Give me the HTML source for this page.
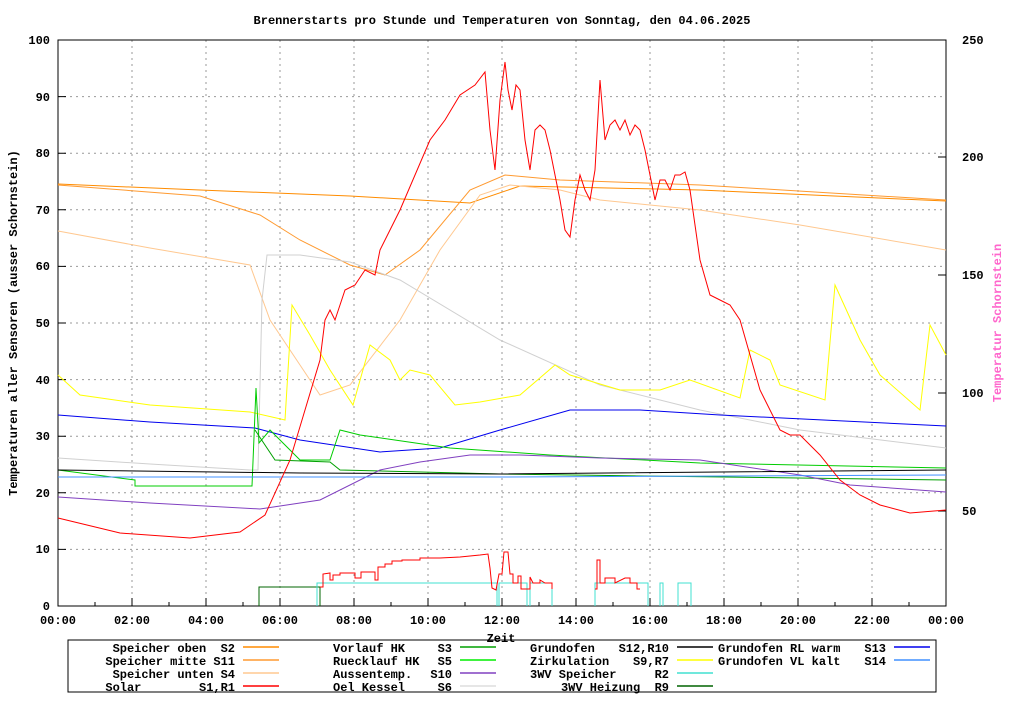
<!DOCTYPE html>
<html><head><meta charset="utf-8"><style>
body{margin:0;background:#fff}
svg text{font-family:"Liberation Mono",monospace;font-size:12px;font-weight:bold;fill:#000;white-space:pre}
</style></head><body>
<svg width="1024" height="700" viewBox="0 0 1024 700" xmlns="http://www.w3.org/2000/svg" xml:space="preserve">
<rect width="1024" height="700" fill="#fff"/>
<text x="502" y="24" text-anchor="middle">Brennerstarts pro Stunde und Temperaturen von Sonntag, den 04.06.2025</text>
<g stroke="#999" stroke-dasharray="2,4" stroke-width="1">
<line x1="58" y1="549.4" x2="946" y2="549.4"/><line x1="58" y1="492.8" x2="946" y2="492.8"/><line x1="58" y1="436.2" x2="946" y2="436.2"/><line x1="58" y1="379.6" x2="946" y2="379.6"/><line x1="58" y1="323" x2="946" y2="323"/><line x1="58" y1="266.4" x2="946" y2="266.4"/><line x1="58" y1="209.8" x2="946" y2="209.8"/><line x1="58" y1="153.2" x2="946" y2="153.2"/><line x1="58" y1="96.6" x2="946" y2="96.6"/>
<line x1="132" y1="40" x2="132" y2="606"/><line x1="206" y1="40" x2="206" y2="606"/><line x1="280" y1="40" x2="280" y2="606"/><line x1="354" y1="40" x2="354" y2="606"/><line x1="428" y1="40" x2="428" y2="606"/><line x1="502" y1="40" x2="502" y2="606"/><line x1="576" y1="40" x2="576" y2="606"/><line x1="650" y1="40" x2="650" y2="606"/><line x1="724" y1="40" x2="724" y2="606"/><line x1="798" y1="40" x2="798" y2="606"/><line x1="872" y1="40" x2="872" y2="606"/>
</g>
<g stroke="#000">
<path d="M58,549.4h8M58,492.8h8M58,436.2h8M58,379.6h8M58,323h8M58,266.4h8M58,209.8h8M58,153.2h8M58,96.6h8"/>
<path d="M946,157h-8M946,275h-8M946,393h-8M946,511h-8"/>
<path d="M132,606v-8M206,606v-8M280,606v-8M354,606v-8M428,606v-8M502,606v-8M576,606v-8M650,606v-8M724,606v-8M798,606v-8M872,606v-8"/>
<path d="M95,606v-4M169,606v-4M243,606v-4M317,606v-4M391,606v-4M465,606v-4M539,606v-4M613,606v-4M687,606v-4M761,606v-4M835,606v-4M909,606v-4"/>
</g>
<rect x="58" y="40" width="888" height="566" fill="none" stroke="#000"/>
<g text-anchor="end">
<text x="50" y="610">0</text><text x="50" y="553">10</text><text x="50" y="497">20</text><text x="50" y="440">30</text><text x="50" y="384">40</text><text x="50" y="327">50</text><text x="50" y="270">60</text><text x="50" y="214">70</text><text x="50" y="157">80</text><text x="50" y="101">90</text><text x="50" y="44">100</text>
</g>
<g><text x="962" y="44">250</text><text x="962" y="161">200</text><text x="962" y="279">150</text><text x="962" y="397">100</text><text x="962" y="515">50</text></g>
<g text-anchor="middle"><text x="58" y="624">00:00</text><text x="132" y="624">02:00</text><text x="206" y="624">04:00</text><text x="280" y="624">06:00</text><text x="354" y="624">08:00</text><text x="428" y="624">10:00</text><text x="502" y="624">12:00</text><text x="576" y="624">14:00</text><text x="650" y="624">16:00</text><text x="724" y="624">18:00</text><text x="798" y="624">20:00</text><text x="872" y="624">22:00</text><text x="946" y="624">00:00</text>
<text x="501" y="642">Zeit</text></g>
<text transform="translate(17,323) rotate(-90)" text-anchor="middle">Temperaturen aller Sensoren (ausser Schornstein)</text>
<text transform="translate(1001,323) rotate(-90)" text-anchor="middle" style="fill:#ff66cc">Temperatur Schornstein</text>
<g fill="none" stroke-width="1">
<polyline stroke="#ff8c00" points="58,184 200,190 350,196 470,203 520,186 700,190 946,201"/>
<polyline stroke="#ff9a30" points="58,185 200,196 260,215 300,240 350,265 385,275 420,250 470,190 505,175 560,180 700,185 946,200"/>
<polyline stroke="#ffc890" points="58,231 150,248 250,265 270,320 300,365 320,395 350,385 400,320 440,250 480,195 510,185 560,190 600,200 700,210 800,225 946,250"/>
<polyline stroke="#d0d0d0" points="58,458 150,464 250,470 258,470 262,300 267,255 300,255 350,262 400,280 500,340 600,385 700,410 800,430 946,448"/>
<polyline stroke="#ffff00" points="58,375 80,395 150,405 250,412 285,420 292,305 310,335 330,370 353,405 370,345 390,360 400,380 410,370 430,375 455,405 480,402 520,395 555,365 570,375 620,390 660,390 690,380 740,398 750,350 770,360 780,385 825,400 835,285 860,340 880,375 920,410 930,325 946,355"/>
<polyline stroke="#0000ee" points="58,415 150,422 255,428 300,440 380,452 440,448 500,430 570,410 640,410 720,415 946,426"/>
<polyline stroke="#00cc00" points="58,470 135,480 135,486 252,486 256,388 259,443 270,430 300,460 330,460 340,430 360,435 450,448 550,455 700,463 946,468"/>
<polyline stroke="#00a000" points="255,430 275,460 330,462 340,470 500,474 946,480"/>
<polyline stroke="#8040c0" points="58,497 150,503 260,509 320,500 380,470 420,462 470,455 520,455 600,458 700,460 800,475 850,485 946,492"/>
<polyline stroke="#000" points="58,470 300,473 500,474 946,470"/>
<polyline stroke="#4090ff" points="58,477 500,477 946,475"/>
<polyline stroke="#ff0000" points="58,518 120,533 190,538 240,532 265,515 290,460 320,360 325,320 330,310 335,320 345,290 355,285 365,270 375,275 380,250 400,210 430,140 445,120 460,95 475,85 485,72 490,130 495,170 500,100 505,62 508,90 512,110 516,85 520,90 525,140 530,170 535,130 540,125 545,130 550,150 560,200 565,230 570,237 575,200 580,175 585,190 590,200 595,170 600,80 605,140 610,125 615,120 620,130 625,120 630,135 635,125 640,130 645,150 655,200 660,180 665,180 670,190 675,175 680,175 685,172 690,190 700,260 710,295 720,300 730,305 740,320 750,355 760,390 780,430 790,435 800,435 820,455 840,480 860,495 880,505 910,513 946,510"/>
<polyline stroke="#006400" points="259,606 259,587 320,587 320,606"/>
<g stroke="#40e0d0"><polyline points="317,606 317,583 497,583 497,606"/><polyline points="499,606 499,583 527,583 527,606"/><polyline points="530,606 530,583 552,583 552,606"/><polyline points="595,606 595,583 648,583 648,606"/><polyline points="660,606 660,583 663,583 663,606"/><polyline points="678,606 678,583 691,583 691,606"/></g>
<polyline stroke="#ff0000" points="320,587 323,587 323,574 330,573 330,580 333,580 333,575 340,575 340,573 355,573 355,578 361,578 361,572 375,572 375,580 378,580 378,567 385,567 385,564 392,564 392,561 402,561 402,560 420,560 420,558 440,558 440,558 460,557 480,555 488,554 490,568 492,588 496,590 499,574 502,574 504,552 508,552 510,574 513,574 513,583 518,583 518,576 521,576 521,589 525,589 530,589 530,577 533,583 540,583 540,580 545,583 552,583 552,589"/>
<polyline stroke="#ff0000" points="595,589 597,589 597,560 600,560 600,583 605,583 605,578 615,578 615,583 625,578 630,578 630,583 637,583 637,589 640,589"/>
</g>
<rect x="68" y="640" width="868" height="52" fill="none" stroke="#000"/>
<g text-anchor="end">
<text x="235" y="652">Speicher oben  S2</text><text x="235" y="665">Speicher mitte S11</text><text x="235" y="678">Speicher unten S4</text><text x="235" y="691">Solar        S1,R1</text>
<text x="452" y="652">S3</text><text x="452" y="665">S5</text><text x="452" y="678">S10</text><text x="452" y="691">S6</text>
<text x="669" y="652">S12,R10</text><text x="669" y="665">S9,R7</text><text x="669" y="678">R2</text><text x="669" y="691">3WV Heizung  R9</text>
<text x="886" y="652">S13</text><text x="886" y="665">S14</text>
</g>
<g><text x="333" y="652">Vorlauf HK</text><text x="333" y="665">Ruecklauf HK</text><text x="333" y="678">Aussentemp.</text><text x="333" y="691">Oel Kessel</text>
<text x="530" y="652">Grundofen</text><text x="530" y="665">Zirkulation</text><text x="530" y="678">3WV Speicher</text>
<text x="718" y="652">Grundofen RL warm</text><text x="718" y="665">Grundofen VL kalt</text></g>
<g stroke-width="1.5">
<line x1="243" y1="647" x2="279" y2="647" stroke="#ff8c00"/><line x1="243" y1="660" x2="279" y2="660" stroke="#ff9a30"/><line x1="243" y1="673" x2="279" y2="673" stroke="#ffc890"/><line x1="243" y1="686" x2="279" y2="686" stroke="#ff0000"/>
<line x1="460" y1="647" x2="496" y2="647" stroke="#00a000"/><line x1="460" y1="660" x2="496" y2="660" stroke="#00ee00"/><line x1="460" y1="673" x2="496" y2="673" stroke="#8040c0"/><line x1="460" y1="686" x2="496" y2="686" stroke="#ddd"/>
<line x1="677" y1="647" x2="713" y2="647" stroke="#000"/><line x1="677" y1="660" x2="713" y2="660" stroke="#ffff00"/><line x1="677" y1="673" x2="713" y2="673" stroke="#40e0d0"/><line x1="677" y1="686" x2="713" y2="686" stroke="#006400"/>
<line x1="894" y1="647" x2="930" y2="647" stroke="#0000ee"/><line x1="894" y1="660" x2="930" y2="660" stroke="#4090ff"/>
</g>
</svg>
</body></html>
